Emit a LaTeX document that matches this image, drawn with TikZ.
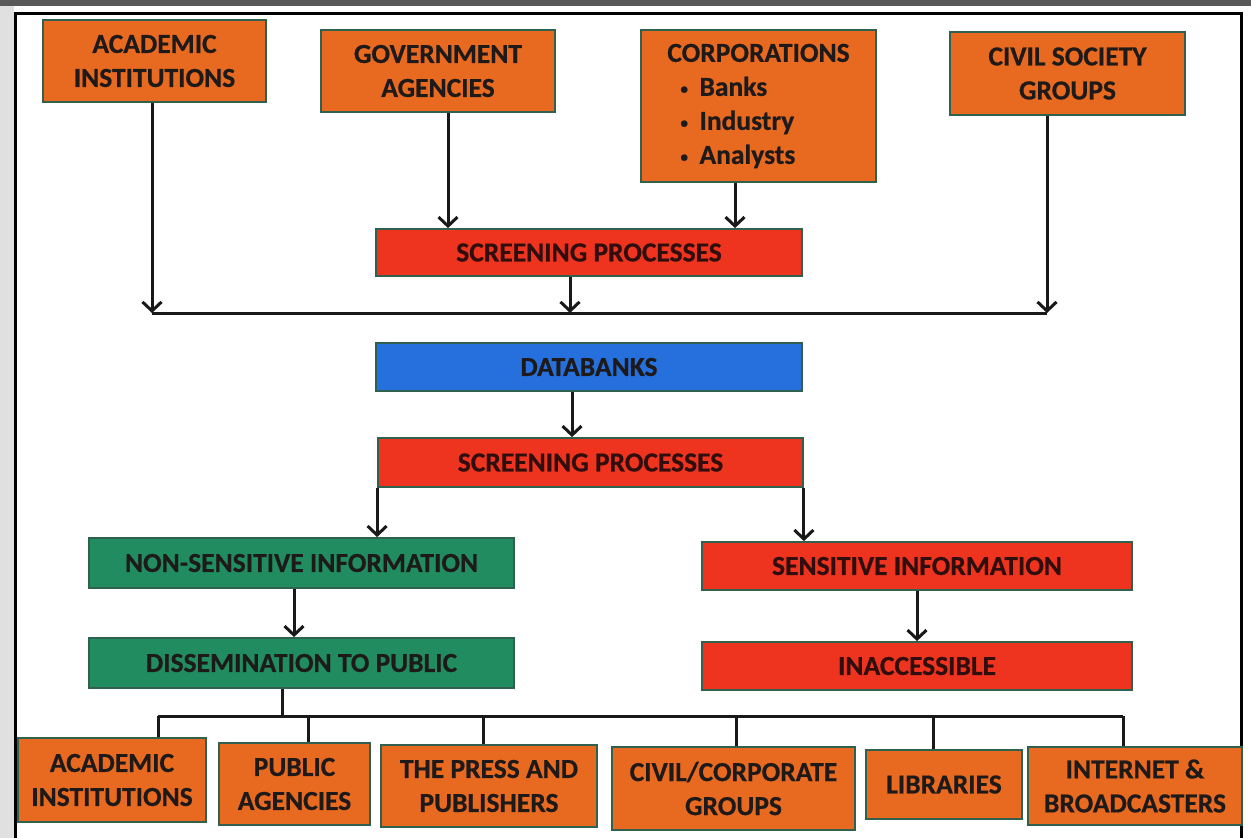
\documentclass[tikz,border=0pt]{standalone}
\usepackage{fontspec}
\setmainfont{Carlito}[BoldFeatures={FakeBold=0.6}]
\usetikzlibrary{arrows.meta}

\definecolor{boxorange}{RGB}{232,106,32}
\definecolor{boxred}{RGB}{238,52,30}
\definecolor{boxblue}{RGB}{38,112,222}
\definecolor{boxgreen}{RGB}{32,140,96}
\definecolor{boxedge}{RGB}{48,96,78}
\definecolor{inkdark}{RGB}{30,26,26}
\definecolor{inkred}{RGB}{48,14,14}

\tikzset{
  box/.style={draw=boxedge, line width=1.8pt, inner sep=2pt, align=center,
    font=\fontsize{27.5}{34}\selectfont\bfseries, text=inkdark},
  obox/.style={box, fill=boxorange},
  rbox/.style={box, fill=boxred, text=inkred},
  bbox/.style={box, fill=boxblue},
  gbox/.style={box, fill=boxgreen},
  link/.style={line width=3pt, draw=black!90},
  arr/.style={link, -{Straight Barb[length=9pt,width=19pt]}},
}

\newcommand{\bitem}[1]{\makebox[156pt][l]{\makebox[19pt][l]{\raisebox{2pt}{\fontsize{15}{15}\selectfont\textbullet}}#1}}

\begin{document}
\begin{tikzpicture}[x=1pt,y=-1pt]
\useasboundingbox (0,0) rectangle (1251,838);

% page edge and outer frame
\fill[white] (0,0) rectangle (1251,838);
\fill[black!12] (0,0) rectangle (14,838);
\fill[black!65] (0,0) rectangle (1251,6);
\draw[line width=3pt, black] (15,13) rectangle (1241,860);

% sources
\node[obox, minimum width=223pt, minimum height=82pt] (acad) at (154.5,61) {ACADEMIC\\INSTITUTIONS};
\node[obox, minimum width=234pt, minimum height=82pt] (gov) at (438,71) {GOVERNMENT\\AGENCIES};
\node[obox, minimum width=235pt, minimum height=152pt] (corp) at (758.5,106)
  {CORPORATIONS\\\bitem{Banks}\\\bitem{Industry}\\\bitem{Analysts}};
\node[obox, minimum width=235pt, minimum height=83pt] (civil) at (1067.5,73.5) {CIVIL SOCIETY\\GROUPS};

% processing chain
\node[rbox, minimum width=426pt, minimum height=47pt] (scr1) at (589,252.5) {SCREENING PROCESSES};
\node[bbox, minimum width=426pt, minimum height=48pt] (data) at (589,367) {DATABANKS};
\node[rbox, minimum width=425pt, minimum height=49pt] (scr2) at (590.5,462.5) {SCREENING PROCESSES};

\node[gbox, minimum width=425pt, minimum height=50pt] (nons) at (301.5,563) {NON-SENSITIVE INFORMATION};
\node[gbox, minimum width=425pt, minimum height=50pt] (diss) at (301.5,663) {DISSEMINATION TO PUBLIC};
\node[rbox, minimum width=430pt, minimum height=48pt] (sens) at (917,566) {SENSITIVE INFORMATION};
\node[rbox, minimum width=430pt, minimum height=48pt] (inac) at (917,666) {INACCESSIBLE};

% recipients
\node[obox, minimum width=188pt, minimum height=84pt] (r1) at (112,780) {ACADEMIC\\INSTITUTIONS};
\node[obox, minimum width=151pt, minimum height=82pt] (r2) at (294.5,784) {PUBLIC\\AGENCIES};
\node[obox, minimum width=216pt, minimum height=82pt] (r3) at (489,786) {THE PRESS AND\\PUBLISHERS};
\node[obox, minimum width=243pt, minimum height=83pt] (r4) at (733.5,788.5) {CIVIL/CORPORATE\\GROUPS};
\node[obox, minimum width=156pt, minimum height=69pt] (r5) at (944,784.5) {LIBRARIES};
\node[obox, minimum width=214pt, minimum height=78pt] (r6) at (1135,786) {INTERNET \&\\BROADCASTERS};

% collector line under the sources
\coordinate (j1) at (152,313);
\coordinate (j2) at (570,313);
\coordinate (j3) at (1047,313);
\draw[link] (j1) -- (j3);
\draw[arr] (acad.south -| j1) -- (j1);
\draw[arr] (scr1.south -| j2) -- (j2);
\draw[arr] (civil.south -| j3) -- (j3);

\coordinate (g) at (448,0);
\coordinate (c) at (735,0);
\draw[arr] (gov.south -| g) -- (scr1.north -| g);
\draw[arr] (corp.south -| c) -- (scr1.north -| c);

\coordinate (d) at (572,0);
\draw[arr] (data.south -| d) -- (scr2.north -| d);

\draw[arr] (scr2.south west) -- (scr2.south west |- nons.north);
\draw[arr] (scr2.south east) -- (scr2.south east |- sens.north);

\coordinate (n) at (294,0);
\draw[arr] (nons.south -| n) -- (diss.north -| n);
\draw[arr] (sens.south) -- (inac.north);

% distribution bus
\coordinate (bus) at (282,716);
\coordinate (b1) at (158,716);
\coordinate (b6) at (1123,716);
\draw[link] (diss.south -| bus) -- (bus);
\draw[link] (b1) -- (b6);
\draw[link] (b1) -- (r1.north -| b1);
\draw[link] (308,716) -- (r2.north -| 308,0);
\draw[link] (483,716) -- (r3.north -| 483,0);
\draw[link] (736,716) -- (r4.north -| 736,0);
\draw[link] (933,716) -- (r5.north -| 933,0);
\draw[link] (b6) -- (r6.north -| b6);
\end{tikzpicture}
\end{document}
